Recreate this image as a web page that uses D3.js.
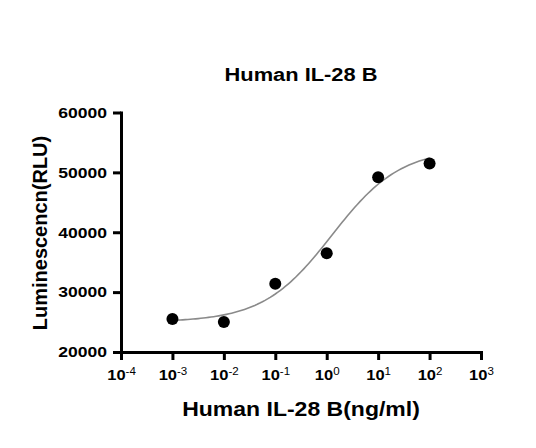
<!DOCTYPE html>
<html>
<head>
<meta charset="utf-8">
<script src="https://d3js.org/d3.v7.min.js"></script>
<style>
  body { margin: 0; background: #fff; }
  text { font-family: "Liberation Sans", Arial, sans-serif; font-weight: bold; fill: #000; }
  .axis path, .axis line { stroke: #000; stroke-width: 3px; }
  .axis path { stroke-linecap: square; }
  .curve { fill: none; stroke: #8a8a8a; stroke-width: 1.6px; }
</style>
</head>
<body>
<svg width="536" height="448"></svg>
<script>
// measured points (ng/ml vs RLU)
var doses = [0.001, 0.01, 0.1, 1, 10, 100];
var rlu = [25500, 25000, 31400, 36500, 49200, 51500];

// tick values
var xTicks = [-4, -3, -2, -1, 0, 1, 2, 3];   // exponents of 10
var yTicks = [20000, 30000, 40000, 50000, 60000];

// 4PL fit
var fitBottom = 25000, fitTop = 54000, fitLogEC50 = 0.1, fitHill = 0.65;

var svg = d3.select("svg");

var x = d3.scaleLog().domain([1e-4, 1e3]).range([121, 481]);
var y = d3.scaleLinear().domain([20000, 60000]).range([352, 112.5]);

// the fitted curve, drawn over the measured dose range
function fourPL(logx) {
  return fitBottom + (fitTop - fitBottom) / (1 + Math.pow(10, (fitLogEC50 - logx) * fitHill));
}
var logs = d3.range(-3, 2.0001, 0.05);
svg.append("path")
    .attr("class", "curve")
    .datum(logs)
    .attr("d", d3.line()
      .x(function(d) { return x(Math.pow(10, d)); })
      .y(function(d) { return y(fourPL(d)); }));

// y axis
var gy = svg.append("g")
    .attr("class", "axis")
    .attr("transform", "translate(121,0)")
    .call(d3.axisLeft(y).tickValues(yTicks).tickSize(8).tickSizeOuter(0).tickPadding(6)
      .tickFormat(d3.format("d")));
gy.selectAll(".tick text")
    .attr("font-size", 15)
    .attr("transform", "translate(-14,0) scale(1.17,1) translate(14,0)");

// x axis with 10^n labels
var gx = svg.append("g")
    .attr("class", "axis")
    .attr("transform", "translate(0,352)")
    .call(d3.axisBottom(x).tickValues(xTicks.map(function(e) { return Math.pow(10, e); }))
      .tickSize(8).tickSizeOuter(0).tickFormat(function() { return ""; }));
gx.selectAll(".tick text")
    .attr("y", 28.5).attr("dy", 0)
    .attr("font-size", 15)
    .attr("text-anchor", "middle")
    .attr("transform", "scale(1.1,1)")
    .each(function(d, i) {
      var t = d3.select(this);
      t.append("tspan").text("10");
      t.append("tspan").attr("font-size", 10.5).attr("font-weight", "normal")
        .attr("dy", -5.5).text(xTicks[i]);
    });
gx.select(".domain").raise();
gy.select(".domain").raise();

// points
svg.append("g").selectAll("circle")
    .data(doses)
    .join("circle")
    .attr("cx", function(d) { return x(d); })
    .attr("cy", function(d, i) { return y(rlu[i]); })
    .attr("r", 6)
    .attr("fill", "#000");

// titles
svg.append("text")
    .attr("text-anchor", "middle")
    .attr("font-size", 19)
    .attr("transform", "translate(301,81) scale(1.15,1)")
    .text("Human IL-28 B");

svg.append("text")
    .attr("text-anchor", "middle")
    .attr("font-size", 19.5)
    .attr("transform", "translate(301,416) scale(1.18,1)")
    .text("Human IL-28 B(ng/ml)");

svg.append("text")
    .attr("text-anchor", "middle")
    .attr("font-size", 20)
    .attr("transform", "translate(47,233) rotate(-90)")
    .text("Luminescencn(RLU)");
</script>
</body>
</html>
